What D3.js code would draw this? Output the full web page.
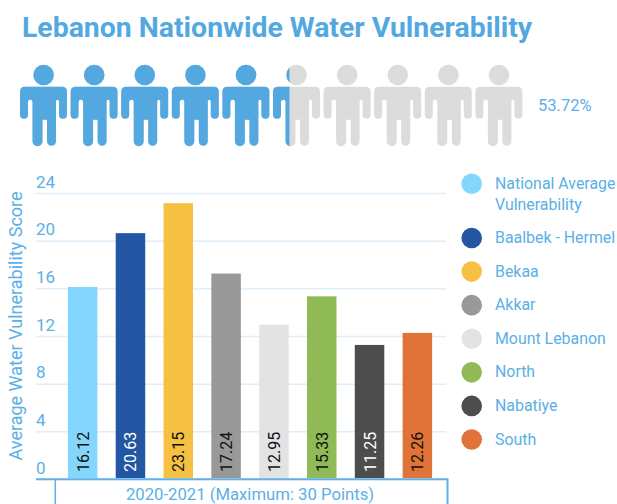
<!DOCTYPE html>
<html lang="en">
<head>
<meta charset="utf-8">
<title>Lebanon Nationwide Water Vulnerability</title>
<script src="https://cdn.jsdelivr.net/npm/d3@7"></script>
<style>
html, body { margin: 0; padding: 0; background: #fff; }
svg { display: block; font-family: Roboto, sans-serif; }
</style>
</head>
<body>
<script>
// values
var categories = ["National Average Vulnerability", "Baalbek - Hermel", "Bekaa", "Akkar", "Mount Lebanon", "North", "Nabatiye", "South"];
var scores = [16.12, 20.63, 23.15, 17.24, 12.95, 15.33, 11.25, 12.26];
var palette = ["#85d6fd", "#2457a3", "#f6c143", "#999999", "#e3e3e3", "#8fba55", "#4d4d4d", "#e07338"];
var yTicks = [0, 4, 8, 12, 16, 20, 24];
var people = [1, 2, 3, 4, 5, 6, 7, 8, 9, 10];
var nationwidePct = 53.72;
var xLabel = "2020-2021 (Maximum: 30 Points)";

var blue = "#53a9df", textBlue = "#5bb0e6", grey = "#dcdcdc";

var svg = d3.select("body").append("svg").attr("width", 617).attr("height", 504);

svg.append("text").attr("x", 22).attr("y", 37)
	.style("font-size", "28.4px").style("font-weight", 700).style("fill", blue)
	.text("Lebanon Nationwide Water Vulnerability");

// pictogram row
var pctX = d3.scaleLinear().domain([0, 100]).range([20, 521.7]);
var personX = d3.scaleBand().domain(people).range([20, 522.4]).paddingInner(0.071).paddingOuter(0);
var personPath = "M5,0H42Q47,0 47,5V28A4,4 0 0 1 39,28V15Q39,13 37.5,13Q36,13 36,15V54.5A4.5,4.5 0 0 1 27,54.5V33H25.5Q24.5,33 24.5,33H22.5V54.5A4.5,4.5 0 0 1 12.5,54.5V15Q12.5,13 10.5,13Q8,13 8,15V28A4,4 0 0 1 0,28V5Q0,0 5,0Z";

svg.append("clipPath").attr("id", "filled").append("rect")
	.attr("x", 0).attr("y", 60).attr("width", pctX(nationwidePct)).attr("height", 95);

function drawPeople(colour, clip) {
	var g = svg.append("g").attr("clip-path", clip);
	var p = g.selectAll("g").data(people).enter().append("g")
		.attr("transform", function(d) { return "translate(" + personX(d) + ",86.7)"; });
	p.append("circle").attr("cx", 23.6).attr("cy", -11.7).attr("r", 10.3).style("fill", colour);
	p.append("path").attr("d", personPath).style("fill", colour);
}
drawPeople(grey, null);
drawPeople(blue, "url(#filled)");

svg.append("text").attr("x", 538).attr("y", 111)
	.style("font-size", "16.5px").style("fill", textBlue)
	.text(nationwidePct.toFixed(2) + "%");

// bars
var y = d3.scaleLinear().domain([0, 24]).range([479, 193]);
var x = d3.scaleBand().domain(categories).range([58.8, 441.2]).paddingInner(0.383).paddingOuter(0.19);

var yAxis = svg.append("g").attr("transform", "translate(446,0)")
	.call(d3.axisLeft(y).tickValues(yTicks).tickSize(410).tickPadding(0));
yAxis.select(".domain").remove();
yAxis.selectAll(".tick line").style("stroke", "#deeefa").style("stroke-width", 1.5);
yAxis.selectAll(".tick text")
	.attr("text-anchor", "start").attr("x", -410).attr("dy", -6)
	.style("font-family", "Roboto, sans-serif").style("font-size", "17px").style("fill", textBlue);

svg.selectAll("rect.bar").data(categories).enter().append("rect")
	.attr("class", "bar")
	.attr("x", function(d) { return x(d); })
	.attr("y", function(d, i) { return y(scores[i]); })
	.attr("width", x.bandwidth())
	.attr("height", function(d, i) { return y(0) - y(scores[i]) - 1; })
	.style("fill", function(d, i) { return palette[i]; });

svg.selectAll("text.val").data(categories).enter().append("text")
	.attr("class", "val")
	.attr("transform", function(d) { return "translate(" + (x(d) + x.bandwidth() / 2 + 6) + ",472) rotate(-90)"; })
	.style("font-size", "16px")
	.style("fill", function(d, i) { return d3.lab(palette[i]).l < 45 ? "#fff" : "#111"; })
	.text(function(d, i) { return scores[i].toFixed(2); });

svg.append("text")
	.attr("transform", "translate(22,326) rotate(-90)")
	.attr("text-anchor", "middle")
	.style("font-size", "18px").style("fill", textBlue)
	.text("Average Water Vulnerability Score");

// baseline and year box
var axisColour = "#5fb0e6";
svg.append("path").attr("d", "M36,479.2H447.5V504").style("fill", "none").style("stroke", axisColour).style("stroke-width", 2);
svg.append("path").attr("d", "M55.3,479.2V504").style("fill", "none").style("stroke", axisColour).style("stroke-width", 1.5);
svg.append("text").attr("x", 250).attr("y", 500).attr("text-anchor", "middle")
	.style("font-size", "16.7px").style("fill", textBlue)
	.text(xLabel);

// legend
var legendY = d3.scalePoint().domain(categories.slice(1)).range([238, 439.5]);
var legend = svg.append("g").selectAll("g").data(categories).enter().append("g")
	.attr("transform", function(d, i) { return "translate(0," + (i == 0 ? 183.7 : legendY(d)) + ")"; });
legend.append("circle").attr("cx", 471.7).attr("r", 10.3)
	.style("fill", function(d, i) { return palette[i]; });
legend.append("text").attr("x", 495).attr("y", 5)
	.style("font-size", "15.9px").style("fill", textBlue)
	.each(function(d, i) {
		var el = d3.select(this);
		if (i == 0) {
			el.append("tspan").attr("x", 495).text("National Average");
			el.append("tspan").attr("x", 495).attr("dy", 21).text("Vulnerability");
		} else {
			el.text(d);
		}
	});
</script>
</body>
</html>
